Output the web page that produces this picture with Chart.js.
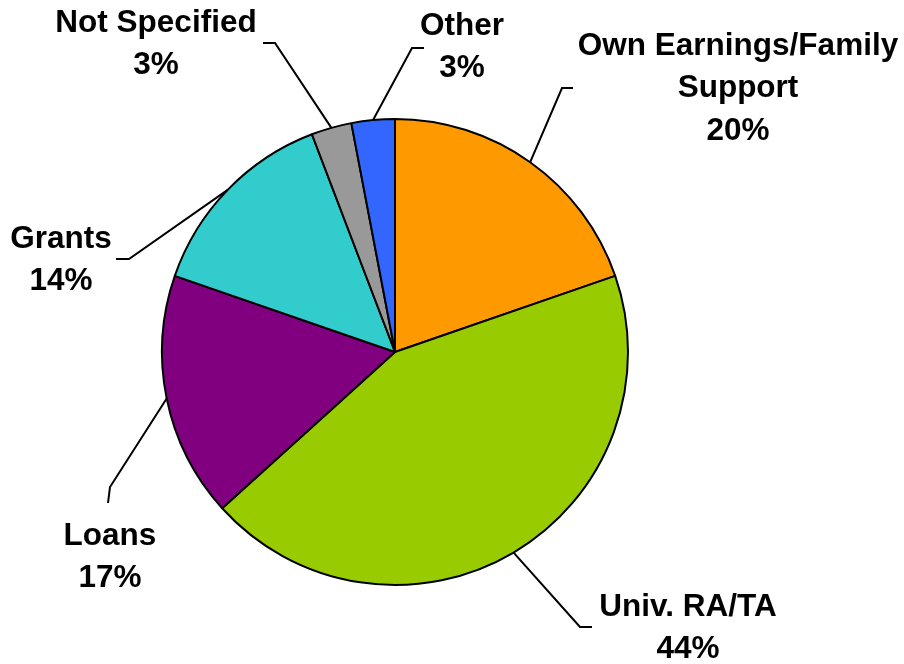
<!DOCTYPE html>
<html>
<head>
<meta charset="utf-8">
<script src="https://cdn.jsdelivr.net/npm/chart.js@4/dist/chart.umd.min.js"></script>
<style>
  html, body { margin: 0; padding: 0; background: #fff; }
  #wrap { width: 904px; height: 664px; }
</style>
</head>
<body>
<div id="wrap"><canvas id="c" width="904" height="664"></canvas></div>
<script>
const categories = ['Own Earnings/Family Support', 'Univ. RA/TA', 'Loans', 'Grants', 'Not Specified', 'Other'];
const shares = [19.7, 43.6, 17.0, 13.9, 2.8, 3.0];
const percentLabels = ['20%', '44%', '17%', '14%', '3%', '3%'];
const colors = ['#FF9900', '#99CC00', '#800080', '#33CCCC', '#999999', '#3366FF'];

// text lines, text centre, and leader elbow/end for each slice label
const labelLines = [
  ['Own Earnings/Family', 'Support'],
  ['Univ. RA/TA'],
  ['Loans'],
  ['Grants'],
  ['Not Specified'],
  ['Other']
];
const labelAt = [
  { x: 738, y: 46, elbow: [562, 88], end: [573, 88] },
  { x: 688, y: 607, elbow: [580, 627], end: [592, 627] },
  { x: 110, y: 536, elbow: [110, 487], end: [108, 503] },
  { x: 61, y: 239, elbow: [129, 259], end: [116, 259] },
  { x: 156, y: 23, elbow: [275, 43], end: [263, 43] },
  { x: 462, y: 26, elbow: [412, 48], end: [424, 48] }
];

const leaderLabels = {
  id: 'leaderLabels',
  afterDatasetsDraw(chart) {
    const ctx = chart.ctx;
    const arcs = chart.getDatasetMeta(0).data;
    ctx.save();
    ctx.strokeStyle = '#000';
    ctx.lineWidth = 2;
    arcs.forEach((arc, i) => {
      const mid = (arc.startAngle + arc.endAngle) / 2;
      const sx = arc.x + Math.cos(mid) * arc.outerRadius;
      const sy = arc.y + Math.sin(mid) * arc.outerRadius;
      const L = labelAt[i];
      ctx.beginPath();
      ctx.moveTo(sx, sy);
      ctx.lineTo(L.elbow[0], L.elbow[1]);
      ctx.lineTo(L.end[0], L.end[1]);
      ctx.stroke();
    });
    ctx.fillStyle = '#000';
    ctx.font = 'bold 31.5px "Liberation Sans", Arial, sans-serif';
    ctx.textAlign = 'center';
    ctx.textBaseline = 'middle';
    arcs.forEach((arc, i) => {
      const L = labelAt[i];
      const lines = labelLines[i].concat([percentLabels[i]]);
      lines.forEach((t, k) => ctx.fillText(t, L.x, L.y + k * 42.5));
    });
    ctx.restore();
  }
};

new Chart(document.getElementById('c'), {
  type: 'pie',
  data: {
    labels: categories,
    datasets: [{
      data: shares,
      backgroundColor: colors,
      borderColor: '#000',
      borderWidth: 2
    }]
  },
  options: {
    responsive: false,
    animation: false,
    layout: { padding: { left: 161, right: 275, top: 118, bottom: 78 } },
    plugins: {
      legend: { display: false },
      tooltip: { enabled: false }
    }
  },
  plugins: [leaderLabels]
});
</script>
</body>
</html>
